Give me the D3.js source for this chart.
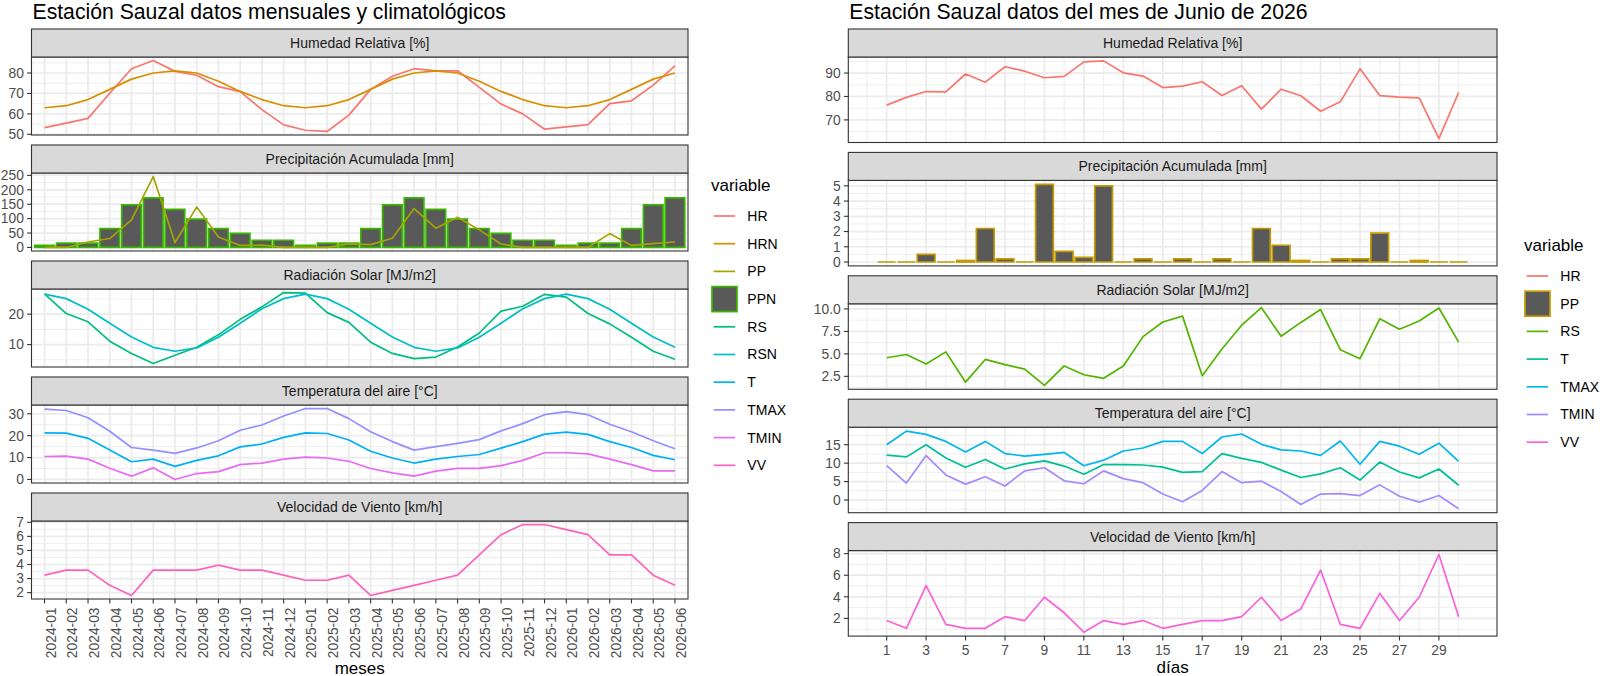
<!DOCTYPE html>
<html>
<head>
<meta charset="utf-8">
<script src="https://cdn.jsdelivr.net/npm/d3@7"></script>
<style>
body { margin: 0; background: #fff; }
svg { font-family: "Liberation Sans", Arial, sans-serif; display: block; }
</style>
</head>
<body>
<svg id="vis"></svg>
<script>
const WIDTH = 1600;
const HEIGHT = 676;

// ---- datos mensuales (izquierda) ----
const meses = ["2024-01","2024-02","2024-03","2024-04","2024-05","2024-06","2024-07","2024-08","2024-09","2024-10","2024-11","2024-12",
  "2025-01","2025-02","2025-03","2025-04","2025-05","2025-06","2025-07","2025-08","2025-09","2025-10","2025-11","2025-12",
  "2026-01","2026-02","2026-03","2026-04","2026-05","2026-06"];
const HR_m   = [53.3,55.5,57.8,70.1,82.1,86.1,80.8,78.9,73.3,70.9,62.1,54.6,52.0,51.4,59.4,72.0,78.4,82.1,81.0,81.1,73.0,64.8,60.0,52.5,53.6,54.7,65.0,66.4,74.1,83.5];
const HRN_m  = [63,64,67,72,77,80,81,80,76,71,67,64,63,64,67,72,77,80,81,80,76,71,67,64,63,64,67,72,77,80];
const PP_m   = [0,0,19,31,96,246,17,140,36,7,8,0,0,0,12,10,32,135,67,105,61,12,0,0,0,0,48,7,13,19];
const PPN_m  = [7,15,15,65,148,172,132,98,65,49,25,25,7,15,15,65,148,172,132,98,65,49,25,25,7,15,15,65,148,172];
const RS_m   = [26.7,20.2,17.5,11.1,7.1,3.8,6.5,9.1,13.2,18.3,22.4,27.1,26.9,20.5,17.3,10.8,7.1,5.4,5.9,9.2,13.8,21.0,22.6,26.5,25.6,20.2,16.8,12.4,7.8,5.2];
const RSN_m  = [26.6,25.1,21.6,17.0,12.5,9.1,7.8,8.9,12.4,17.0,21.8,25.1,26.6,25.1,21.6,17.0,12.5,9.1,7.8,8.9,12.4,17.0,21.8,25.1,26.6,25.1,21.6,17.0,12.5,9.1];
const T_m    = [21.3,21.2,18.8,13.5,8.1,9.3,6.0,8.7,10.8,14.9,16.2,19.2,21.3,21.0,18.0,12.9,9.8,7.5,9.3,10.5,11.4,14.3,17.3,20.7,21.6,20.6,17.3,14.6,11.0,9.0];
const TMAX_m = [32.1,31.5,28.2,22.0,14.6,13.4,11.9,14.4,17.7,22.5,24.9,29.0,32.4,32.4,27.8,21.8,17.3,13.4,15.0,16.5,18.2,22.2,25.5,29.6,31.0,29.6,25.2,21.8,17.7,14.0];
const TMIN_m = [10.5,10.7,9.3,5.1,1.5,5.3,0.0,2.7,3.6,6.8,7.5,9.3,10.2,9.8,8.3,5.0,3.0,1.5,3.8,5.1,5.1,6.3,8.7,12.2,12.2,11.7,9.3,6.8,3.9,3.9];
const VV_m   = [3.24,3.6,3.6,2.52,1.8,3.6,3.6,3.6,3.96,3.6,3.6,3.24,2.88,2.88,3.24,1.8,2.16,2.52,2.88,3.24,4.68,6.12,6.84,6.84,6.48,6.12,4.68,4.68,3.24,2.52];

// ---- datos diarios junio 2026 (derecha) ----
const dias = [1,2,3,4,5,6,7,8,9,10,11,12,13,14,15,16,17,18,19,20,21,22,23,24,25,26,27,28,29,30];
const HR_d   = [76.3,79.6,82.1,82.0,89.6,86.1,92.7,90.8,88.0,88.6,94.8,95.2,90.1,88.7,83.8,84.4,86.3,80.4,84.6,74.6,83.1,80.3,73.7,77.7,91.8,80.4,79.7,79.4,62.0,81.7];
const PP_d   = [0,0,0.5,0,0.1,2.2,0.2,0,5.1,0.7,0.3,5.0,0,0.2,0,0.2,0,0.2,0,2.2,1.1,0.1,0,0.2,0.2,1.9,0,0.1,0,0];
const RS_d   = [4.57,4.93,3.88,5.22,1.85,4.38,3.80,3.30,1.49,3.66,2.68,2.28,3.66,6.92,8.55,9.20,2.57,5.54,8.19,10.14,6.96,8.50,9.93,5.47,4.46,8.90,7.75,8.66,10.10,6.30];
const T_d    = [12.2,11.7,15.0,11.4,8.9,11.0,8.4,9.8,10.6,9.2,7.0,9.6,9.6,9.5,8.9,7.5,7.7,12.6,11.3,10.2,8.1,6.1,7.1,8.75,5.4,10.3,7.6,6.0,8.4,4.0];
const TMAX_d = [15.0,18.7,17.8,15.9,13.0,15.9,12.6,11.9,12.4,12.9,9.3,10.8,13.3,14.1,15.9,15.9,12.6,17.1,17.9,15.1,13.6,13.3,12.1,16.0,9.7,15.9,14.6,12.4,15.4,10.5];
const TMIN_d = [9.3,4.6,12.05,6.8,4.3,6.3,3.8,7.9,8.75,5.2,4.4,7.9,5.8,4.7,1.6,-0.5,2.6,7.7,4.7,5.1,2.3,-1.25,1.6,1.7,1.2,4.1,1.0,-0.6,1.2,-2.4];
const VV_d   = [1.8,1.08,5.04,1.44,1.08,1.08,2.16,1.8,3.96,2.52,0.72,1.8,1.44,1.8,1.08,1.44,1.8,1.8,2.16,3.96,1.8,2.88,6.48,1.44,1.08,4.32,1.8,3.96,7.92,2.16];

// ---- ticks ----
const ticksDias = [1,3,5,7,9,11,13,15,17,19,21,23,25,27,29];
const minorDias = [0,2,4,6,8,10,12,14,16,18,20,22,24,26,28,30];

const svg = d3.select("#vis").attr("width", WIDTH).attr("height", HEIGHT);

const colsL = {HR:"#F8766D",HRN:"#D89000",PP:"#A3A500",PPN:"#39B600",RS:"#00BF7D",RSN:"#00BFC4",T:"#00B0F6",TMAX:"#9590FF",TMIN:"#E76BF3",VV:"#FF62BC"};
const colsR = {HR:"#F8766D",PP:"#C49A00",RS:"#53B400",T:"#00C094",TMAX:"#00B6EB",TMIN:"#A58AFF",VV:"#FB61D7"};

const GRID = "#EBEBEB", DARK = "#333333", TXT = "#4D4D4D";
const FS = 14;      // strips y leyenda
const FS_AX = 13.8; // etiquetas de ejes

function expand(vals) {
  const [a, b] = d3.extent(vals);
  const e = (b - a) * 0.05;
  return [a - e, b + e];
}

function drawPanels(opt) {
  const g = svg.append("g");
  const n = opt.panels.length;
  opt.panels.forEach((p, i) => {
    const sTop = opt.top0 + opt.period * i;
    const pTop = sTop + opt.stripH;
    const pBot = pTop + opt.panelH;
    let all = [];
    p.lines.forEach(l => all = all.concat(l.v));
    if (p.bars) all = all.concat(p.bars.v, [0]);
    const y = d3.scaleLinear().domain(expand(all)).range([pBot, pTop]);

    g.append("rect").attr("x", opt.x0).attr("y", pTop).attr("width", opt.x1 - opt.x0).attr("height", opt.panelH).attr("fill", "#fff");

    // grid
    (opt.xMinor || []).forEach(v => {
      g.append("line").attr("x1", opt.xpos(v)).attr("x2", opt.xpos(v)).attr("y1", pTop).attr("y2", pBot)
        .attr("stroke", GRID).attr("stroke-width", 0.85);
    });
    p.minor.forEach(v => {
      g.append("line").attr("x1", opt.x0).attr("x2", opt.x1).attr("y1", y(v)).attr("y2", y(v))
        .attr("stroke", GRID).attr("stroke-width", 0.85);
    });
    opt.xMajor.forEach(v => {
      g.append("line").attr("x1", opt.xpos(v)).attr("x2", opt.xpos(v)).attr("y1", pTop).attr("y2", pBot)
        .attr("stroke", GRID).attr("stroke-width", 1.7);
    });
    p.ticks.forEach(v => {
      g.append("line").attr("x1", opt.x0).attr("x2", opt.x1).attr("y1", y(v)).attr("y2", y(v))
        .attr("stroke", GRID).attr("stroke-width", 1.7);
    });

    // bars
    if (p.bars) {
      const bw = opt.barW;
      g.selectAll(null).data(p.bars.v).join("path")
        .attr("d", (d, k) => {
          const cx = opt.xpos(opt.cats[k]);
          return `M${cx - bw / 2},${y(0)}H${cx + bw / 2}V${y(d)}H${cx - bw / 2}Z`;
        })
        .attr("fill", "#595959")
        .attr("stroke", p.bars.c)
        .attr("stroke-width", 1.7);
    }

    // lines
    const line = d3.line().x((d, k) => opt.xpos(opt.cats[k])).y(d => y(d));
    p.lines.forEach(l => {
      g.append("path").datum(l.v).attr("d", line)
        .attr("fill", "none").attr("stroke", l.c).attr("stroke-width", 1.7)
        .attr("stroke-linejoin", "round");
    });

    g.append("rect").attr("x", opt.x0).attr("y", pTop).attr("width", opt.x1 - opt.x0).attr("height", opt.panelH)
      .attr("fill", "none").attr("stroke", DARK).attr("stroke-width", 1.1);

    // strip
    g.append("rect").attr("x", opt.x0).attr("y", sTop).attr("width", opt.x1 - opt.x0).attr("height", opt.stripH)
      .attr("fill", "#D9D9D9").attr("stroke", DARK).attr("stroke-width", 1.1);
    g.append("text").attr("x", (opt.x0 + opt.x1) / 2).attr("y", sTop + opt.stripH / 2).attr("dy", "0.35em")
      .attr("text-anchor", "middle").attr("font-size", FS).attr("fill", "#1A1A1A").text(p.name);

    // y axis
    p.ticks.forEach((v, k) => {
      g.append("line").attr("x1", opt.x0 - 4.4).attr("x2", opt.x0).attr("y1", y(v)).attr("y2", y(v))
        .attr("stroke", DARK).attr("stroke-width", 1.1);
      g.append("text").attr("x", opt.x0 - 7.6).attr("y", y(v)).attr("dy", "0.35em")
        .attr("text-anchor", "end").attr("font-size", FS_AX).attr("fill", TXT)
        .text(p.labels ? p.labels[k] : v);
    });

    // x axis on last panel
    if (i === n - 1) {
      opt.xMajor.forEach(v => {
        const x = opt.xpos(v);
        g.append("line").attr("x1", x).attr("x2", x).attr("y1", pBot).attr("y2", pBot + 4.4)
          .attr("stroke", DARK).attr("stroke-width", 1.1);
        if (opt.rotate) {
          g.append("text").attr("transform", `translate(${x},${pBot + 8.5}) rotate(-90)`)
            .attr("dy", "0.8em").attr("text-anchor", "end").attr("font-size", FS_AX).attr("fill", TXT).text(v);
        } else {
          g.append("text").attr("x", x).attr("y", pBot + 7.8).attr("dy", "0.8em")
            .attr("text-anchor", "middle").attr("font-size", FS_AX).attr("fill", TXT).text(v);
        }
      });
      g.append("text").attr("x", (opt.x0 + opt.x1) / 2).attr("y", opt.xTitleY)
        .attr("text-anchor", "middle").attr("font-size", 17).attr("fill", "#000").text(opt.xTitle);
    }
  });

  g.append("text").attr("x", opt.x0 + 1).attr("y", 18.5).attr("font-size", 21.2).attr("fill", "#000").text(opt.title);
}

function drawLegend(x, yTitle, yFirst, items) {
  const g = svg.append("g");
  g.append("text").attr("x", x).attr("y", yTitle).attr("font-size", 17).attr("fill", "#000").text("variable");
  const step = 27.7, key = 26.8;
  items.forEach((it, k) => {
    const cy = yFirst + step * k;
    if (it.box) {
      g.append("rect").attr("x", x + 1).attr("y", cy - key / 2 + 0.9).attr("width", key - 1.8).attr("height", key - 1.8)
        .attr("fill", "#595959").attr("stroke", it.c).attr("stroke-width", 1.7);
    } else {
      g.append("line").attr("x1", x + key * 0.1).attr("x2", x + key * 0.9).attr("y1", cy).attr("y2", cy)
        .attr("stroke", it.c).attr("stroke-width", 1.7);
    }
    g.append("text").attr("x", x + key + 9.5).attr("y", cy).attr("dy", "0.35em")
      .attr("font-size", FS).attr("fill", "#000").text(it.name);
  });
}

// ---- izquierda ----
const xL = d3.scalePoint().domain(meses).range([31.5, 688]).padding(0.6);
drawPanels({
  title: "Estación Sauzal datos mensuales y climatológicos",
  x0: 31.5, x1: 688, top0: 29, period: 116, stripH: 28, panelH: 78,
  cats: meses, xpos: v => xL(v), xMajor: meses, xMinor: [], barW: xL.step() * 0.9,
  rotate: true, xTitle: "meses", xTitleY: 673.5,
  panels: [
    {name: "Humedad Relativa [%]", lines: [{v: HR_m, c: colsL.HR}, {v: HRN_m, c: colsL.HRN}], ticks: [50,60,70,80], minor: [55,65,75,85]},
    {name: "Precipitación Acumulada [mm]", bars: {v: PPN_m, c: colsL.PPN}, lines: [{v: PP_m, c: colsL.PP}], ticks: [0,50,100,150,200,250], minor: [25,75,125,175,225]},
    {name: "Radiación Solar [MJ/m2]", lines: [{v: RS_m, c: colsL.RS}, {v: RSN_m, c: colsL.RSN}], ticks: [10,20], minor: [5,15,25]},
    {name: "Temperatura del aire [°C]", lines: [{v: T_m, c: colsL.T}, {v: TMAX_m, c: colsL.TMAX}, {v: TMIN_m, c: colsL.TMIN}], ticks: [0,10,20,30], minor: [5,15,25]},
    {name: "Velocidad de Viento [km/h]", lines: [{v: VV_m, c: colsL.VV}], ticks: [2,3,4,5,6,7], minor: [2.5,3.5,4.5,5.5,6.5]}
  ]
});
drawLegend(711, 191, 216, [
  {name: "HR", c: colsL.HR}, {name: "HRN", c: colsL.HRN}, {name: "PP", c: colsL.PP}, {name: "PPN", c: colsL.PPN, box: true},
  {name: "RS", c: colsL.RS}, {name: "RSN", c: colsL.RSN}, {name: "T", c: colsL.T}, {name: "TMAX", c: colsL.TMAX},
  {name: "TMIN", c: colsL.TMIN}, {name: "VV", c: colsL.VV}
]);

// ---- derecha ----
const xR = d3.scaleLinear().domain([-0.945, 31.945]).range([848.3, 1497]);
drawPanels({
  title: "Estación Sauzal datos del mes de Junio de 2026",
  x0: 848.3, x1: 1497, top0: 29, period: 123.4, stripH: 28, panelH: 85.5,
  cats: dias, xpos: v => xR(v), xMajor: ticksDias, xMinor: minorDias, barW: xR(0.9) - xR(0),
  rotate: false, xTitle: "días", xTitleY: 673,
  panels: [
    {name: "Humedad Relativa [%]", lines: [{v: HR_d, c: colsR.HR}], ticks: [70,80,90], minor: [65,75,85,95]},
    {name: "Precipitación Acumulada [mm]", bars: {v: PP_d, c: colsR.PP}, lines: [], ticks: [0,1,2,3,4,5], minor: [0.5,1.5,2.5,3.5,4.5]},
    {name: "Radiación Solar [MJ/m2]", lines: [{v: RS_d, c: colsR.RS}], ticks: [2.5,5,7.5,10], labels: ["2.5","5.0","7.5","10.0"], minor: [1.25,3.75,6.25,8.75]},
    {name: "Temperatura del aire [°C]", lines: [{v: T_d, c: colsR.T}, {v: TMAX_d, c: colsR.TMAX}, {v: TMIN_d, c: colsR.TMIN}], ticks: [0,5,10,15], minor: [-2.5,2.5,7.5,12.5,17.5]},
    {name: "Velocidad de Viento [km/h]", lines: [{v: VV_d, c: colsR.VV}], ticks: [2,4,6,8], minor: [1,3,5,7]}
  ]
});
drawLegend(1524, 251, 276, [
  {name: "HR", c: colsR.HR}, {name: "PP", c: colsR.PP, box: true}, {name: "RS", c: colsR.RS}, {name: "T", c: colsR.T},
  {name: "TMAX", c: colsR.TMAX}, {name: "TMIN", c: colsR.TMIN}, {name: "VV", c: colsR.VV}
]);
</script>
</body>
</html>
